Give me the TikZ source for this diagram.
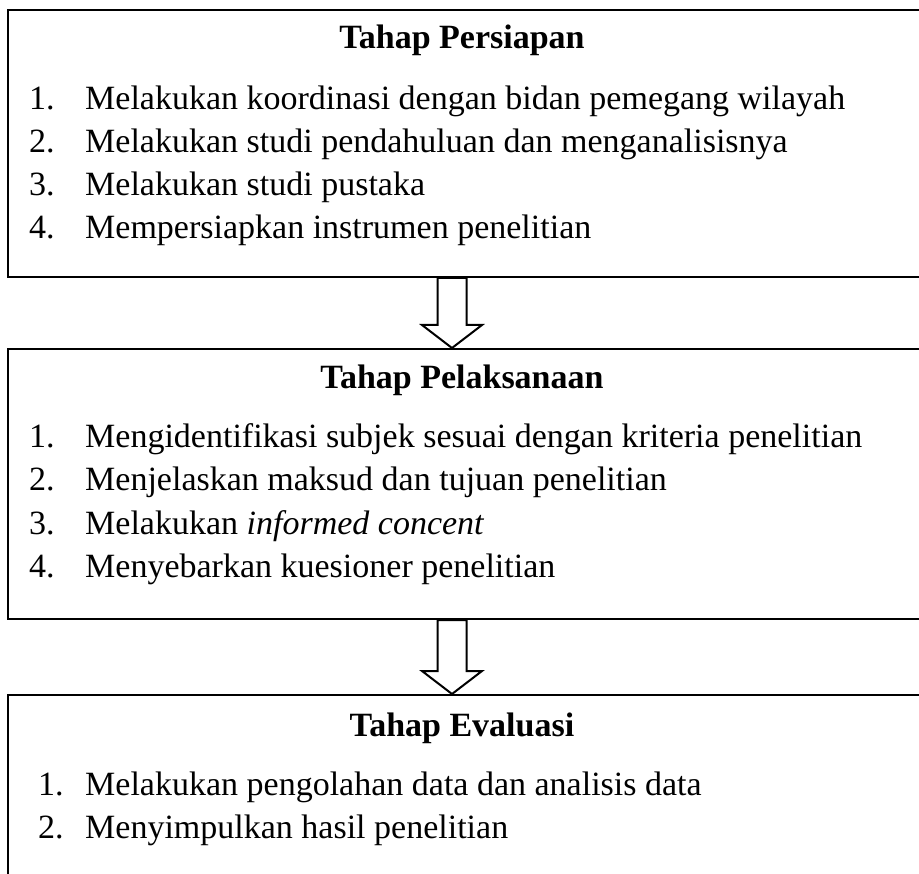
\documentclass[tikz,border=0pt]{standalone}
\usepackage{fontspec}
\setmainfont{Liberation Serif}
\usetikzlibrary{calc}

\newcommand{\stagefont}{\fontsize{34}{40}\selectfont}
\tikzset{
  stagebox/.style={draw,line width=2pt,anchor=north west,minimum width=940pt,inner sep=0pt},
  stagetitle/.style={font=\stagefont\bfseries,anchor=base},
  stepline/.style={anchor=base west,inner sep=0pt},
  hollowarrow/.style={draw,line width=2pt,fill=white,line join=miter},
}
% hollow block arrow from the bottom of one stage to the top of the next
\newcommand{\stagearrow}[2]{%
  \draw[hollowarrow] let \p1=($(#1.south west)+(445,0)$), \p2=($(#2.north west)+(445,0)$) in
    (\x1-14.5pt,\y1) -- (\x1-14.5pt,\y2+23pt) -- (\x1-30pt,\y2+23pt) -- (\x2,\y2)
    -- (\x1+30pt,\y2+23pt) -- (\x1+14.5pt,\y2+23pt) -- (\x1+14.5pt,\y1) -- cycle;
}

\begin{document}
\begin{tikzpicture}[x=1pt,y=-1pt,font=\stagefont]
  \clip (0,0) rectangle (919,874);
  % the three stages
  \node[stagebox,minimum height=267pt] (persiapan) at (7,9) {};
  \node[stagebox,minimum height=270pt] (pelaksanaan) at (7,348) {};
  \node[stagebox,minimum height=240pt] (evaluasi) at (7,694) {};

  \node[stagetitle] (t1) at (462,49) {Tahap Persiapan};
  \foreach \n/\y/\s in {1/110/Melakukan koordinasi dengan bidan pemegang wilayah,
                        2/153/Melakukan studi pendahuluan dan menganalisisnya,
                        3/196/Melakukan studi pustaka,
                        4/239/Mempersiapkan instrumen penelitian}{
    \node[stepline] (p\n) at (29,\y) {\n.};
    \node[stepline] (ps\n) at (85,\y) {\s};
  }

  \node[stagetitle] (t2) at (462,389) {Tahap Pelaksanaan};
  \foreach \n/\y/\s in {1/448/Mengidentifikasi subjek sesuai dengan kriteria penelitian,
                        2/491/Menjelaskan maksud dan tujuan penelitian,
                        3/534/Melakukan \textit{informed concent},
                        4/577/Menyebarkan kuesioner penelitian}{
    \node[stepline] (l\n) at (29,\y) {\n.};
    \node[stepline] (ls\n) at (85,\y) {\s};
  }

  \node[stagetitle] (t3) at (462,736) {Tahap Evaluasi};
  \foreach \n/\y/\s in {1/795/Melakukan pengolahan data dan analisis data,
                        2/838/Menyimpulkan hasil penelitian}{
    \node[stepline] (e\n) at (38,\y) {\n.};
    \node[stepline] (es\n) at (85,\y) {\s};
  }

  \stagearrow{persiapan}{pelaksanaan}
  \stagearrow{pelaksanaan}{evaluasi}
\end{tikzpicture}
\end{document}
